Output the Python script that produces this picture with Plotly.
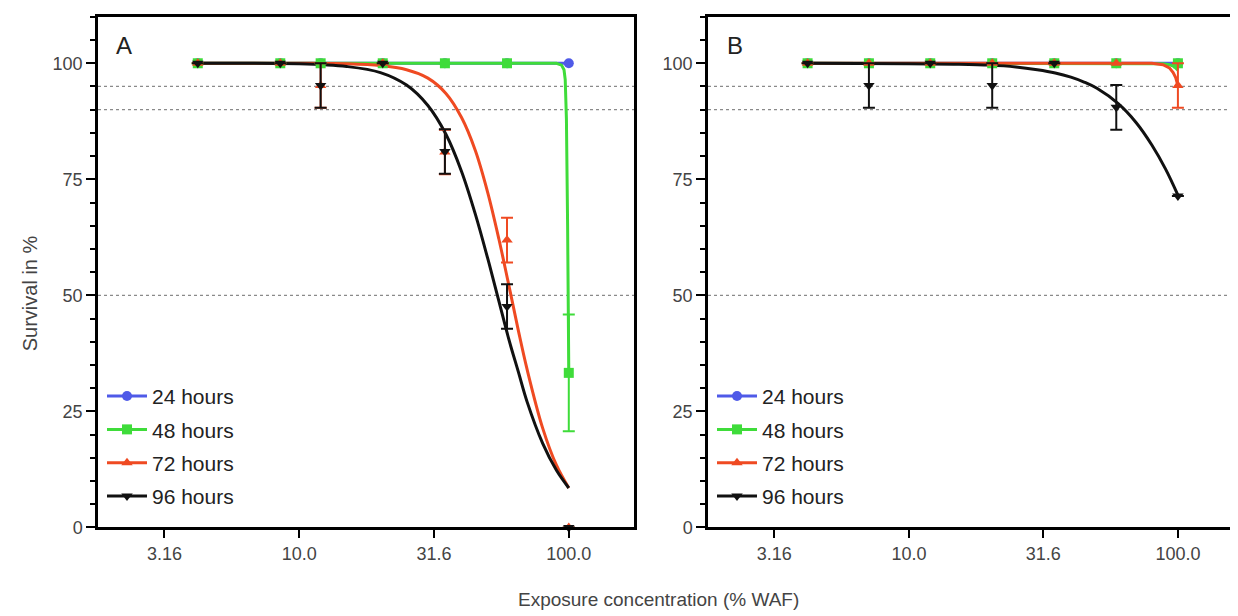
import plotly.graph_objects as go

# ---------------- data ----------------
SERIES = ["24 hours", "48 hours", "72 hours", "96 hours"]
COLORS = ["#4f5ae8", "#3fdc3a", "#ef4a22", "#111111"]
SYMBOLS = ["circle", "square", "triangle-up", "triangle-down"]

# Panel A: measured points
XA = [4.2, 8.5, 12.0, 20.4, 34.7, 59.0, 100.0]
A_24 = [100, 100, 100, 100, 100, 100, 100]
A_48 = [100, 100, 100, 100, 100, 100, 33.3]
A_48_ERR = [0, 0, 0, 0, 0, 0, 12.6]
A_72 = [100, 100, 95.2, 100, 80.9, 61.9, 0]
A_72_ERR = [0, 0, 4.8, 0, 4.8, 4.8, 0]
A_96 = [100, 100, 95.2, 100, 81.0, 47.6, 0]
A_96_ERR = [0, 0, 4.8, 0, 4.8, 4.8, 0]

# Panel A: fitted curves
A_FIT_X = [4.2, 10, 15, 20, 25, 30, 35, 40, 45, 50, 55, 60, 65, 70, 80, 90, 100]
A_FIT_24 = [100] * 17
A_FIT_72 = [100, 100, 99.9, 99.5, 98.6, 96.8, 93.5, 88.3, 81.2, 72.2, 62.2, 52.0, 42.4, 34.1, 21.4, 13.4, 8.5]
A_FIT_96 = [100, 99.9, 99.3, 98.0, 95.3, 90.9, 84.7, 76.7, 67.5, 58.0, 48.8, 40.4, 33.5, 27.1, 18.1, 12.3, 8.5]
A_FIT_48_X = [4.2, 59, 90, 94, 96, 97, 98, 99, 100]
A_FIT_48 = [100, 100, 100, 99.6, 98.6, 96.5, 88, 65, 33.3]

# Panel B: measured points
XB = [4.2, 7.1, 12.0, 20.4, 34.7, 59.0, 100.0]
B_24 = [100, 100, 100, 100, 100, 100, 100]
B_48 = [100, 100, 100, 100, 100, 100, 100]
B_72 = [100, 100, 100, 100, 100, 100, 95.2]
B_72_ERR = [0, 0, 0, 0, 0, 0, 4.8]
B_96 = [100, 95.2, 100, 95.2, 100, 90.5, 71.4]
B_96_ERR = [0, 4.8, 0, 4.8, 0, 4.8, 0]

# Panel B: fitted curves
B_FIT_X = [4.2, 10, 15, 20, 25, 30, 35, 40, 45, 50, 60, 70, 80, 90, 100]
B_FIT_24 = [100] * 15
B_FIT_96 = [100, 99.9, 99.8, 99.6, 99.2, 98.6, 97.9, 97.0, 95.9, 94.6, 91.3, 87.2, 82.4, 77.2, 71.6]
B_FIT_EDGE_X = [4.2, 59, 80, 88, 93, 96, 98, 100]
B_FIT_48 = [100, 100, 100, 99.9, 99.7, 99.4, 99.0, 98.5]
B_FIT_72 = [100, 100, 100, 99.7, 99.0, 98.0, 97.0, 95.2]

REF_LINES = [95, 90, 50]
X_TICKS = [3.16, 10.0, 31.6, 100.0]
X_TICKTEXT = ["3.16", "10.0", "31.6", "100.0"]
Y_TICKS = [0, 25, 50, 75, 100]

# ---------------- figure ----------------
W, H = 1238, 616
fig = go.Figure()

def px_x(p):
    return p / W

def px_y(p):
    return 1 - p / H

def curve(x, y, color, xa, ya, shape="spline"):
    fig.add_trace(go.Scatter(x=x, y=y, mode="lines", line=dict(color=color, width=3, shape=shape),
                             xaxis=xa, yaxis=ya, showlegend=False, hoverinfo="skip", cliponaxis=False))

def points(x, y, err, i, xa, ya):
    fig.add_trace(go.Scatter(
        x=x, y=y, mode="markers",
        marker=dict(symbol=SYMBOLS[i], color=COLORS[i], size=10),
        error_y=dict(type="data", array=err, visible=err is not None, color=COLORS[i], thickness=2, width=6),
        xaxis=xa, yaxis=ya, showlegend=False, cliponaxis=False))

# Panel A
curve(A_FIT_X, A_FIT_24, COLORS[0], "x", "y")
curve(A_FIT_48_X, A_FIT_48, COLORS[1], "x", "y", shape="linear")
curve(A_FIT_X, A_FIT_72, COLORS[2], "x", "y")
curve(A_FIT_X, A_FIT_96, COLORS[3], "x", "y")
points(XA, A_24, None, 0, "x", "y")
points(XA, A_48, A_48_ERR, 1, "x", "y")
points(XA, A_72, A_72_ERR, 2, "x", "y")
points(XA, A_96, A_96_ERR, 3, "x", "y")

# Panel B
curve(B_FIT_X, B_FIT_24, COLORS[0], "x2", "y2")
curve(B_FIT_EDGE_X, B_FIT_48, COLORS[1], "x2", "y2", shape="linear")
curve(B_FIT_EDGE_X, B_FIT_72, COLORS[2], "x2", "y2", shape="linear")
curve(B_FIT_X, B_FIT_96, COLORS[3], "x2", "y2")
points(XB, B_24, None, 0, "x2", "y2")
points(XB, B_48, None, 1, "x2", "y2")
points(XB, B_72, B_72_ERR, 2, "x2", "y2")
points(XB, B_96, B_96_ERR, 3, "x2", "y2")

# legend entries (line + marker), one legend per panel
for leg, xa, ya in (("legend", "x", "y"), ("legend2", "x2", "y2")):
    for i, name in enumerate(SERIES):
        fig.add_trace(go.Scatter(
            x=[None], y=[None], mode="lines+markers", name=name,
            line=dict(color=COLORS[i], width=3),
            marker=dict(symbol=SYMBOLS[i], color=COLORS[i], size=10),
            legend=leg, legendgroup=leg + str(i), xaxis=xa, yaxis=ya))

# reference dotted lines
for xr, yr in (("x domain", "y"), ("x2 domain", "y2")):
    for v in REF_LINES:
        fig.add_shape(type="line", xref=xr, yref=yr, x0=0, x1=1, y0=v, y1=v,
                      line=dict(color="#8a8a8a", width=1.2, dash="dot"), layer="below")

ydom = [px_y(528), px_y(9)]
axis_common = dict(showline=True, linecolor="black", linewidth=2.5, mirror=True,
                   ticks="outside", tickwidth=2, tickcolor="black", showgrid=False, zeroline=False,
                   tickfont=dict(family="Liberation Sans, Arial", size=18, color="#444444"))
xcommon = dict(axis_common, type="log", range=[0.253, 2.242], tickvals=X_TICKS, ticktext=X_TICKTEXT,
               ticklen=8)
ycommon = dict(axis_common, range=[0, 110], tickvals=Y_TICKS, ticklen=9,
               minor=dict(ticks="outside", ticklen=5, tickwidth=2, tickcolor="black", dtick=5, tick0=0,
                          showgrid=False))

legend_style = dict(xanchor="left", yanchor="top", bgcolor="rgba(0,0,0,0)",
                    font=dict(family="Liberation Sans, Arial", size=21, color="#222222"),
                    traceorder="grouped", tracegroupgap=3, itemwidth=40)

def label(text, x, y, size, color="#444444", angle=0):
    return dict(text=text, x=px_x(x), y=px_y(y), xref="paper", yref="paper", showarrow=False,
                xanchor="center", yanchor="middle", textangle=angle,
                font=dict(family="Liberation Sans, Arial", size=size, color=color))

fig.update_layout(
    width=W, height=H, margin=dict(l=0, r=0, t=0, b=0),
    paper_bgcolor="white", plot_bgcolor="white",
    font=dict(family="Liberation Sans, Arial", color="#333333"),
    xaxis=dict(xcommon, domain=[px_x(90), px_x(626)], anchor="y"),
    yaxis=dict(ycommon, domain=ydom, anchor="x"),
    xaxis2=dict(xcommon, domain=[px_x(700), px_x(1235)], anchor="y2"),
    yaxis2=dict(ycommon, domain=ydom, anchor="x2"),
    legend=dict(legend_style, x=px_x(94), y=px_y(374)),
    legend2=dict(legend_style, x=px_x(704), y=px_y(374)),
    annotations=[
        label("A", 116, 38, 24, "#222222"),
        label("B", 727, 38, 24, "#222222"),
        label("Exposure concentration (% WAF)", 650, 601, 19),
        label("Survival in %", 22, 290, 20, angle=-90),
    ],
)

fig.write_html("out.html")
